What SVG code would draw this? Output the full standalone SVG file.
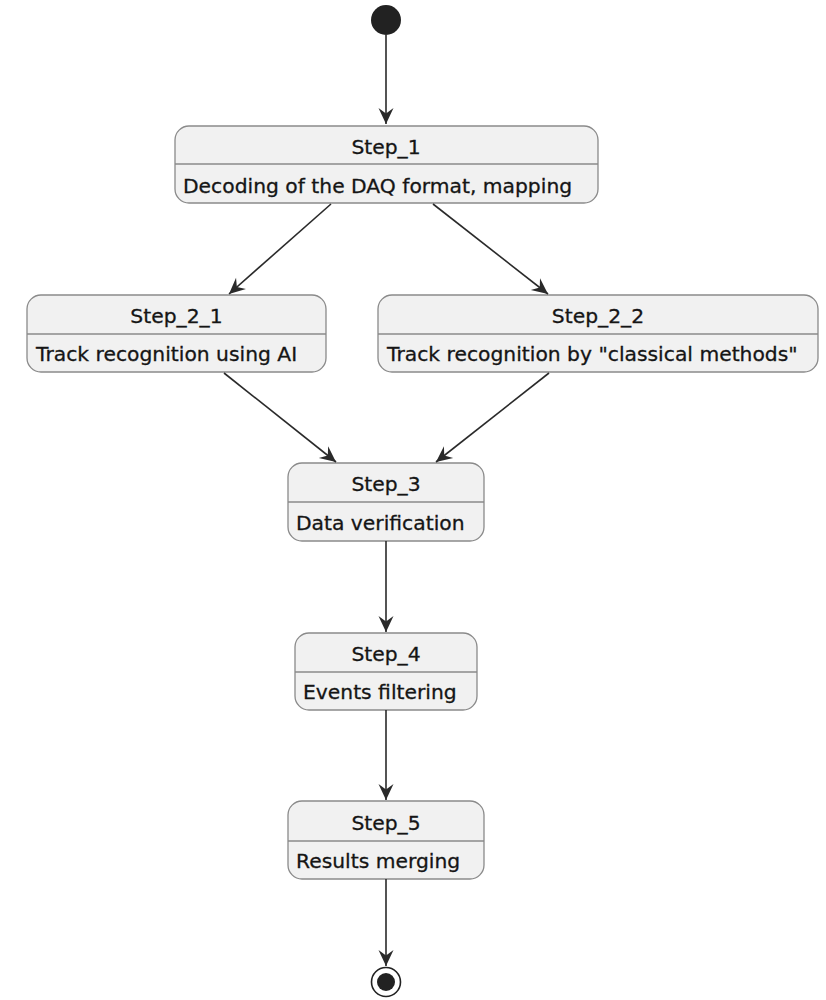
<svg xmlns="http://www.w3.org/2000/svg" width="826" height="1000" viewBox="0 0 826 1000">
  <style>
    .state { fill: #F1F1F1; stroke: #8a8a8a; stroke-width: 1.3; }
    .sep { stroke: #8a8a8a; stroke-width: 1.3; }
    .title, .body { font-family: "DejaVu Sans", Verdana, sans-serif; font-size: 20.3px; fill: #151515; stroke: #151515; stroke-width: 0.3; }
    .title { text-anchor: middle; }
    .edge { stroke: #2a2a2a; stroke-width: 1.6; fill: none; marker-end: url(#arrow); }
  </style>
  <defs>
    <marker id="arrow" viewBox="-17 -9 18 18" refX="0" refY="0" markerWidth="18" markerHeight="18" markerUnits="userSpaceOnUse" orient="auto">
      <path d="M-16,-7.5 L0,0 L-16,7.5 L-10.5,0 Z" fill="#2a2a2a"/>
    </marker>
  </defs>
  <rect width="826" height="1000" fill="#ffffff"/>

  <g id="start">
    <circle cx="386" cy="20" r="15" fill="#222222"/>
  </g>

  <g id="step_1">
    <rect class="state" x="175" y="126" width="423" height="77" rx="14"/>
    <line class="sep" x1="175" y1="164" x2="598" y2="164"/>
    <text class="title" x="386" y="154">Step_1</text>
    <text class="body" x="183" y="193">Decoding of the DAQ format, mapping</text>
  </g>

  <g id="step_2_1">
    <rect class="state" x="27" y="295" width="299" height="77" rx="14"/>
    <line class="sep" x1="27" y1="334" x2="326" y2="334"/>
    <text class="title" x="176.5" y="323">Step_2_1</text>
    <text class="body" x="36" y="361">Track recognition using AI</text>
  </g>

  <g id="step_2_2">
    <rect class="state" x="378" y="295" width="440" height="77" rx="14"/>
    <line class="sep" x1="378" y1="334" x2="818" y2="334"/>
    <text class="title" x="598" y="323">Step_2_2</text>
    <text class="body" x="387" y="361">Track recognition by "classical methods"</text>
  </g>

  <g id="step_3">
    <rect class="state" x="288" y="463" width="196" height="78" rx="14"/>
    <line class="sep" x1="288" y1="502" x2="484" y2="502"/>
    <text class="title" x="386" y="491">Step_3</text>
    <text class="body" x="296" y="530">Data verification</text>
  </g>

  <g id="step_4">
    <rect class="state" x="295" y="633" width="182" height="77" rx="14"/>
    <line class="sep" x1="295" y1="672" x2="477" y2="672"/>
    <text class="title" x="386" y="661">Step_4</text>
    <text class="body" x="303" y="699">Events filtering</text>
  </g>

  <g id="step_5">
    <rect class="state" x="288" y="801" width="196" height="78" rx="14"/>
    <line class="sep" x1="288" y1="841" x2="484" y2="841"/>
    <text class="title" x="386" y="830">Step_5</text>
    <text class="body" x="296" y="868">Results merging</text>
  </g>

  <g id="end">
    <circle cx="386" cy="982" r="14.5" fill="#ffffff" stroke="#222222" stroke-width="1.6"/>
    <circle cx="386" cy="982" r="9" fill="#222222"/>
  </g>

  <g id="connectors">
    <line class="edge" x1="386" y1="35" x2="386" y2="124"/>
    <line class="edge" x1="331" y1="204" x2="229" y2="294"/>
    <line class="edge" x1="433" y1="204" x2="548" y2="294"/>
    <line class="edge" x1="224" y1="373" x2="336" y2="462"/>
    <line class="edge" x1="549" y1="373" x2="436" y2="462"/>
    <line class="edge" x1="386" y1="541" x2="386" y2="632"/>
    <line class="edge" x1="386" y1="710" x2="386" y2="800"/>
    <line class="edge" x1="386" y1="879" x2="386" y2="966"/>
  </g>
</svg>
